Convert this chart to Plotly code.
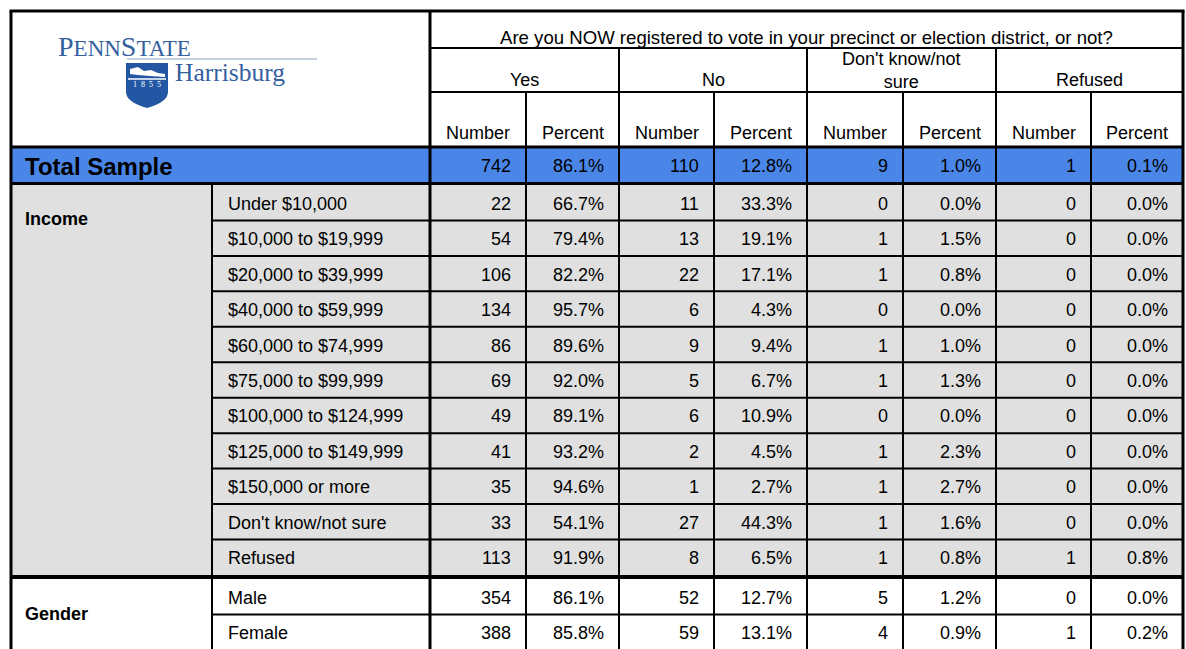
import plotly.graph_objects as go

# ---------------- data ----------------
question = "Are you NOW registered to vote in your precinct or election district, or not?"
answers = ["Yes", "No", "Don't know/not<br>sure", "Refused"]
measures = ["Number", "Percent"]

total_label = "Total Sample"
total_values = [742, 86.1, 110, 12.8, 9, 1.0, 1, 0.1]

income_labels = ["Under $10,000", "$10,000 to $19,999", "$20,000 to $39,999",
                 "$40,000 to $59,999", "$60,000 to $74,999", "$75,000 to $99,999",
                 "$100,000 to $124,999", "$125,000 to $149,999", "$150,000 or more",
                 "Don't know/not sure", "Refused"]
income_yes_n = [22, 54, 106, 134, 86, 69, 49, 41, 35, 33, 113]
income_yes_pct = [66.7, 79.4, 82.2, 95.7, 89.6, 92.0, 89.1, 93.2, 94.6, 54.1, 91.9]
income_no_n = [11, 13, 22, 6, 9, 5, 6, 2, 1, 27, 8]
income_no_pct = [33.3, 19.1, 17.1, 4.3, 9.4, 6.7, 10.9, 4.5, 2.7, 44.3, 6.5]
income_dk_n = [0, 1, 1, 0, 1, 1, 0, 1, 1, 1, 1]
income_dk_pct = [0.0, 1.5, 0.8, 0.0, 1.0, 1.3, 0.0, 2.3, 2.7, 1.6, 0.8]
income_ref_n = [0, 0, 0, 0, 0, 0, 0, 0, 0, 0, 1]
income_ref_pct = [0.0, 0.0, 0.0, 0.0, 0.0, 0.0, 0.0, 0.0, 0.0, 0.0, 0.8]

gender_labels = ["Male", "Female"]
gender_yes_n = [354, 388]
gender_yes_pct = [86.1, 85.8]
gender_no_n = [52, 59]
gender_no_pct = [12.7, 13.1]
gender_dk_n = [5, 4]
gender_dk_pct = [1.2, 0.9]
gender_ref_n = [0, 1]
gender_ref_pct = [0.0, 0.2]

# ---------------- layout geometry ----------------
W, H = 1186, 649
L, R, T = 11, 1183, 11
X_CAT, X_LAB = 212, 430
COLS = [430, 526, 619, 714, 807, 903, 996, 1091, 1183]
Y_Q, Y_G, Y_HDR = 48, 92, 147
Y_TOT = 183.5
ROW_H = 35.45
Y_INC0 = 185
Y_GEN0 = 579
BLUE = "#4a86e8"
GREY = "#e0e0e0"
FONT = "Arial, Liberation Sans, sans-serif"
SERIF = "Liberation Serif, Times New Roman, serif"
LOGO_BLUE = "#35609f"

shapes = []
annotations = []


def rect(x0, y0, x1, y1, color):
    shapes.append(dict(type="rect", xref="x", yref="y", x0=x0, x1=x1, y0=y0, y1=y1,
                       fillcolor=color, line=dict(width=0), layer="below"))


def hline(y, x0, x1, w):
    shapes.append(dict(type="line", xref="x", yref="y", x0=x0, x1=x1, y0=y, y1=y,
                       line=dict(color="black", width=w)))


def vline(x, y0, y1, w):
    shapes.append(dict(type="line", xref="x", yref="y", x0=x, x1=x, y0=y0, y1=y1,
                       line=dict(color="black", width=w)))


def text(x, y, s, size=18, anchor="center", bold=False, color="black", family=FONT):
    if bold:
        s = "<b>" + s + "</b>"
    annotations.append(dict(x=x, y=y, xref="x", yref="y", text=s, showarrow=False,
                            xanchor=anchor, yanchor="middle",
                            font=dict(size=size, color=color, family=family)))


n_inc = len(income_labels)
n_gen = len(gender_labels)
y_inc_end = Y_INC0 + n_inc * ROW_H

# backgrounds
rect(L, Y_HDR, R, Y_TOT, BLUE)
rect(L, Y_TOT, R, y_inc_end + 2, GREY)

# header text
text((COLS[0] + COLS[-1]) / 2, 37, question, size=18.6)
for g, a in enumerate(answers):
    xc = (COLS[2 * g] + COLS[2 * g + 2]) / 2
    if "<br>" in a:
        text(xc, 70, a, size=18)
    else:
        text(xc, 80, a, size=18)
    for m, meas in enumerate(measures):
        xc2 = (COLS[2 * g + m] + COLS[2 * g + m + 1]) / 2
        text(xc2, 133, meas, size=18)


def fmt(k, v):
    return f"{v:.1f}%" if k % 2 == 1 else f"{v}"


def data_row(yc, values):
    for k, v in enumerate(values):
        text(COLS[k + 1] - 13, yc, fmt(k, v), size=18, anchor="right")


# total sample row
yc_tot = (Y_HDR + Y_TOT) / 2 + 1
text(23, yc_tot, total_label, size=24, anchor="left", bold=True)
data_row(yc_tot, total_values)

# income
text(23, 219, "Income", size=18, anchor="left", bold=True)
for i, lab in enumerate(income_labels):
    yc = Y_INC0 + (i + 0.5) * ROW_H + 1
    text(226, yc, lab, size=18, anchor="left")
    data_row(yc, [income_yes_n[i], income_yes_pct[i], income_no_n[i], income_no_pct[i],
                  income_dk_n[i], income_dk_pct[i], income_ref_n[i], income_ref_pct[i]])

# gender
text(23, Y_GEN0 + ROW_H, "Gender", size=18, anchor="left", bold=True)
for i, lab in enumerate(gender_labels):
    yc = Y_GEN0 + (i + 0.5) * ROW_H + 1
    text(226, yc, lab, size=18, anchor="left")
    data_row(yc, [gender_yes_n[i], gender_yes_pct[i], gender_no_n[i], gender_no_pct[i],
                  gender_dk_n[i], gender_dk_pct[i], gender_ref_n[i], gender_ref_pct[i]])

# grid lines
hline(T, L - 1.5, R + 1.5, 3)
hline(Y_Q, X_LAB, R, 2)
hline(Y_G, X_LAB, R, 2)
hline(Y_HDR, L, R, 3)
hline(Y_TOT, L, R, 3)
for i in range(1, n_inc):
    hline(Y_INC0 + i * ROW_H, X_CAT, R, 2)
hline(y_inc_end + 2, L, R, 4)
for i in range(1, n_gen):
    hline(Y_GEN0 + i * ROW_H, X_CAT, R, 2)

vline(L, T, H, 3)
vline(R, T, H, 3)
vline(X_LAB, T, H, 3)
vline(X_CAT, Y_TOT, H, 2)
for j in range(2, len(COLS) - 1, 2):
    vline(COLS[j], Y_Q, H, 2)
for j in range(1, len(COLS) - 1, 2):
    vline(COLS[j], Y_G, H, 2)

# ---------------- logo ----------------
LX, LY = 58, 30
annotations.append(dict(x=LX - 2, y=LY + 16, xref="x", yref="y", showarrow=False,
                        xanchor="left", yanchor="middle",
                        text="<span style='font-size:28px'>P</span>ENN<span style='font-size:28px'>S</span>TATE",
                        font=dict(size=23, color=LOGO_BLUE, family=SERIF)))
shapes.append(dict(type="line", xref="x", yref="y", x0=LX + 69, x1=LX + 259, y0=LY + 29, y1=LY + 29,
                   line=dict(color="#8ea3c4", width=1)))
sx, sy = LX + 68, LY + 33
shapes.append(dict(type="path", xref="x", yref="y",
                   path=f"M {sx} {sy} L {sx+42} {sy} L {sx+42} {sy+29} Q {sx+42} {sy+39} {sx+21} {sy+45} "
                        f"Q {sx} {sy+39} {sx} {sy+29} Z",
                   fillcolor="#2457a3", line=dict(width=0)))
shapes.append(dict(type="path", xref="x", yref="y",
                   path=f"M {sx+4} {sy+6} L {sx+12} {sy+4} L {sx+18} {sy+8} L {sx+25} {sy+7} "
                        f"L {sx+32} {sy+10} L {sx+39} {sy+11} L {sx+39} {sy+14} L {sx+24} {sy+13} "
                        f"L {sx+12} {sy+12} L {sx+4} {sy+11} Z",
                   fillcolor="white", line=dict(width=0)))
shapes.append(dict(type="line", xref="x", yref="y", x0=sx + 2, x1=sx + 40, y0=sy + 16, y1=sy + 16,
                   line=dict(color="white", width=1.5)))
annotations.append(dict(x=sx + 21, y=sy + 21, xref="x", yref="y", showarrow=False,
                        text="1  8  5  5", font=dict(size=8, color="white", family=SERIF)))
annotations.append(dict(x=sx + 47, y=LY + 42, xref="x", yref="y", showarrow=False,
                        xanchor="left", yanchor="middle", text="Harrisburg",
                        font=dict(size=25.5, color=LOGO_BLUE, family=SERIF)))

fig = go.Figure()
fig.update_layout(
    width=W, height=H,
    margin=dict(l=0, r=0, t=0, b=0),
    paper_bgcolor="white", plot_bgcolor="white",
    xaxis=dict(range=[0, W], visible=False, fixedrange=True),
    yaxis=dict(range=[H, 0], visible=False, fixedrange=True),
    shapes=shapes, annotations=annotations, showlegend=False,
)
fig.write_html("out.html", config={"displayModeBar": False},
               post_script="document.body.style.margin='0';document.body.style.overflow='hidden';")
